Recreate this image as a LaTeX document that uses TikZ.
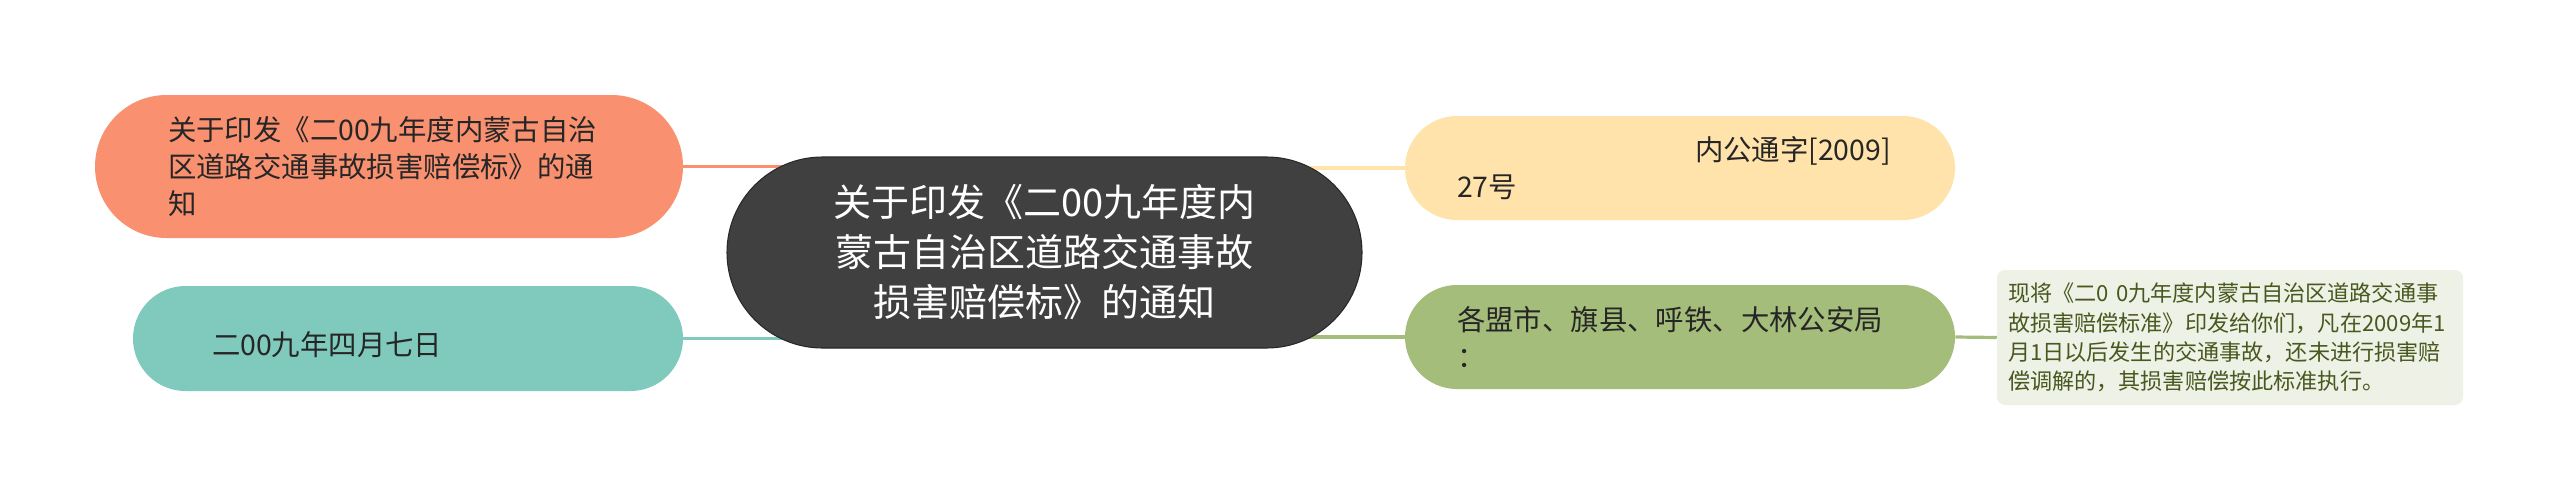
\documentclass[tikz,border=0pt]{standalone}
\usepackage{fontspec}
\setmainfont{Noto Sans CJK SC}
\usetikzlibrary{shapes.misc,backgrounds}
\definecolor{orangeN}{RGB}{249,145,112}
\definecolor{tealN}{RGB}{128,202,189}
\definecolor{darkN}{RGB}{64,64,64}
\definecolor{darkB}{RGB}{40,40,40}
\definecolor{yellowN}{RGB}{255,227,170}
\definecolor{greenN}{RGB}{165,189,122}
\definecolor{noteN}{RGB}{238,241,230}
\definecolor{noteT}{RGB}{72,88,30}
\definecolor{txt}{RGB}{38,38,38}
\begin{document}
\begin{tikzpicture}[x=0.75pt,y=-0.75pt,
  pill/.style={rounded rectangle, inner sep=0pt, text=txt, align=left,
    font=\fontsize{21.3pt}{27.75pt}\selectfont},
  mainpill/.style={rounded rectangle, inner sep=0pt, fill=darkN, draw=darkB, line width=0.8pt,
    text=white, align=center, font=\fontsize{28.5pt}{37.5pt}\selectfont},
  notebox/.style={rectangle, rounded corners=6pt, inner sep=0pt, fill=noteN, text=noteT,
    align=left, font=\fontsize{16.6pt}{22pt}\selectfont},
  conn/.style={line width=2.4pt}]

\node[mainpill, minimum width=476.25pt, minimum height=143.25pt, text width=345pt] (center) at (1044.5,252.5)
  {关于印发《二00九年度内\\蒙古自治区道路交通事故\\损害赔偿标》的通知};

\node[pill, fill=orangeN, minimum width=441pt, minimum height=107.25pt, text width=331.5pt] (orange) at (389,166.5)
  {关于印发《二00九年度内蒙古自治\\区道路交通事故损害赔偿标》的通\\知};

\node[pill, fill=tealN, minimum width=412.5pt, minimum height=78.75pt, text width=294pt] (teal) at (408,338.5)
  {\mbox{}\\二00九年四月七日};

\node[pill, fill=yellowN, minimum width=412.5pt, minimum height=78pt, text width=334.5pt] (yellow) at (1680,168)
  {\hspace*{178.5pt}内公通字[2009]\\27号};

\node[pill, fill=greenN, minimum width=412.5pt, minimum height=78pt, text width=334.5pt] (green) at (1680,337)
  {各盟市、旗县、呼铁、大林公安局\\：};

\node[notebox, minimum width=349.5pt, minimum height=101.25pt, text width=333pt] (note) at (2230,337.5)
  {现将《二0 0九年度内蒙古自治区道路交通事\\故损害赔偿标准》印发给你们，凡在2009年1\\月1日以后发生的交通事故，还未进行损害赔\\偿调解的，其损害赔偿按此标准执行。};

\begin{scope}[on background layer]
  \fill[white] (0,0) rectangle (2560,501);
  \draw[conn, draw=orangeN] (orange.east) -- (orange.east -| center.center);
  \draw[conn, draw=tealN] (teal.east) -- (teal.east -| center.center);
  \draw[conn, draw=yellowN] (yellow.west) -- (yellow.west -| center.center);
  \draw[conn, draw=greenN] (green.west) -- (green.west -| center.center);
  \draw[conn, draw=greenN] (green.east) -- (note.west);
\end{scope}
\useasboundingbox (0,0) rectangle (2560,501);
\end{tikzpicture}
\end{document}
